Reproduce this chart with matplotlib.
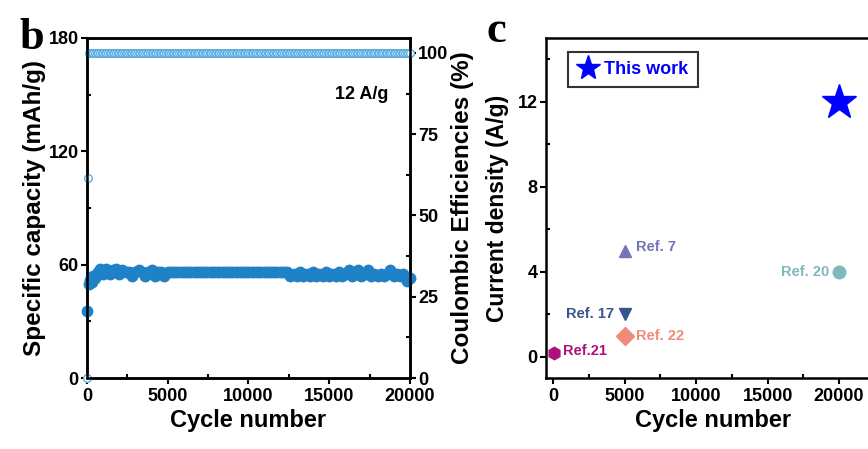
import numpy as np
import matplotlib
matplotlib.use("Agg")
import matplotlib.pyplot as plt
from matplotlib.ticker import MultipleLocator

plt.rcParams['font.family'] = ['Liberation Sans', 'DejaVu Sans']
plt.rcParams['font.weight'] = 'bold'

# ---- panel b data ----
cap_cycles_early = [1, 100, 200, 300, 400, 500, 600, 700]
cap_early = [35.5, 50, 52, 51, 54, 53, 55, 56]
cap_cycles_main = np.arange(800, 20001, 200)
cap_main = [57.5, 55, 57.5, 55, 57, 57.5, 55, 57, 56, 56,
            54, 56, 57, 56, 54, 56, 57, 54, 56, 56,
            54, 56] + [56] * 37 + [
            54, 55, 54, 56, 54, 55, 54, 56, 54, 55,
            54, 56, 54, 55, 54, 56, 54, 55, 57, 54,
            55, 57, 54, 55, 57, 54, 55, 54, 55, 54,
            55, 57, 54, 55, 54, 55, 51.5, 53]
ce_cycles = [1, 40] + list(np.arange(100, 20001, 100))
ce_values = [0, 61.5] + [100] * 200

# ---- panel c data ----
refs = ['This work', 'Ref. 7', 'Ref. 20', 'Ref. 17', 'Ref. 22', 'Ref.21']
ref_cycles = [20000, 5000, 20000, 5000, 5000, 100]
ref_current = [12, 5, 4, 2, 1, 0.2]
ref_markers = ['*', '^', 'o', 'v', 'D', 'h']
ref_colors = ['#0000ff', '#7474b8', '#80b8bc', '#36558c', '#f28a7c', '#b0107c']

fig = plt.figure(figsize=(8.68, 4.49), dpi=100)

def style_ticks(ax):
    ax.tick_params(which='major', direction='out', length=4, width=1.5,
                   labelsize=13, pad=2)
    ax.tick_params(axis='x', which='major', pad=3)
    ax.tick_params(which='minor', direction='in', length=3, width=1.5)
    for s in ax.spines.values():
        s.set_linewidth(1.8)

# panel b
ax1 = fig.add_axes([0.1002, 0.158, 0.372, 0.7575])
ax1.plot(np.concatenate([cap_cycles_early, cap_cycles_main]), cap_early + cap_main,
         'o', color='#1f82c6', ms=7.5, mec='#1f82c6', clip_on=False, zorder=3)
ax1.set_xlim(0, 20000)
ax1.set_ylim(0, 180)
ax1.xaxis.set_major_locator(MultipleLocator(5000))
ax1.xaxis.set_minor_locator(MultipleLocator(2500))
ax1.yaxis.set_major_locator(MultipleLocator(60))
ax1.yaxis.set_minor_locator(MultipleLocator(30))
ax1.set_xlabel('Cycle number', fontsize=17, fontweight='bold', labelpad=3)
ax1.set_ylabel('Specific capacity (mAh/g)', fontsize=17.5, fontweight='bold', labelpad=2)
style_ticks(ax1)
ax1.text(17000, 150, '12 A/g', fontsize=13, fontweight='bold', ha='center', va='center')

ax2 = ax1.twinx()
ax2.plot(ce_cycles, ce_values, 'o', mfc='white', mec='#5aaee0', ms=5.5, mew=1.0,
         clip_on=False, zorder=2)
ax2.set_ylim(0, 104.6)
ax2.yaxis.set_major_locator(MultipleLocator(25))
ax2.yaxis.set_minor_locator(MultipleLocator(12.5))
ax2.set_ylabel('Coulombic Efficiencies (%)', fontsize=17.5, fontweight='bold', labelpad=2)
style_ticks(ax2)
ax2.set_xlim(0, 20000)

fig.text(0.022, 0.915, 'b', fontsize=32, fontweight='bold', family='Liberation Serif',
         va='center')

# panel c
ax3 = fig.add_axes([0.629, 0.158, 0.385, 0.7575])
for name, cx, cy, mk, col in zip(refs, ref_cycles, ref_current, ref_markers, ref_colors):
    size = 26 if mk == '*' else 9
    ax3.plot(cx, cy, marker=mk, color=col, ms=size, ls='none',
             label=name if name == 'This work' else None)
ax3.set_xlim(-490, 22870)
ax3.set_ylim(-1, 15)
ax3.xaxis.set_major_locator(MultipleLocator(5000))
ax3.xaxis.set_minor_locator(MultipleLocator(2500))
ax3.yaxis.set_major_locator(MultipleLocator(4))
ax3.yaxis.set_minor_locator(MultipleLocator(2))
ax3.set_xlabel('Cycle number', fontsize=17, fontweight='bold', labelpad=3)
ax3.set_ylabel('Current density (A/g)', fontsize=16.5, fontweight='bold', labelpad=6)
style_ticks(ax3)

lab_kw = dict(fontsize=10.5, fontweight='bold', va='center')
ax3.text(5800, 5.15, 'Ref. 7', color=ref_colors[1], **lab_kw)
ax3.text(19300, 4.0, 'Ref. 20', color=ref_colors[2], ha='right', **lab_kw)
ax3.text(4300, 2.0, 'Ref. 17', color=ref_colors[3], ha='right', **lab_kw)
ax3.text(5800, 1.0, 'Ref. 22', color=ref_colors[4], **lab_kw)
ax3.text(700, 0.25, 'Ref.21', color=ref_colors[5], **lab_kw)

leg = ax3.legend(loc='upper left', bbox_to_anchor=(0.04, 0.985), fontsize=13,
                 handletextpad=0.3, borderpad=0.5, fancybox=False, markerscale=0.7,
                 handlelength=1.2)
leg.get_frame().set_edgecolor('black')
leg.get_frame().set_linewidth(1.5)
for t in leg.get_texts():
    t.set_color('#0000ff')
    t.set_fontweight('bold')

fig.text(0.56, 0.93, 'c', fontsize=32, fontweight='bold', family='Liberation Serif',
         va='center')

fig.savefig('out.png', dpi=100)
